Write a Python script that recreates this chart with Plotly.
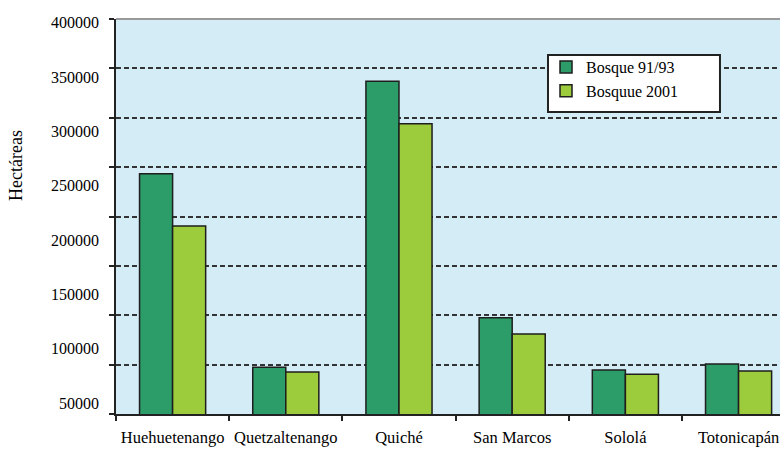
import plotly.graph_objects as go

categories = ["Huehuetenango", "Quetzaltenango", "Quiché", "San Marcos", "Sololá", "Totonicapán"]
bosque_91_93 = [261000, 83000, 346000, 128500, 80500, 86000]
bosque_2001 = [213000, 78500, 307000, 113500, 76500, 79500]
tick_values = [50000, 100000, 150000, 200000, 250000, 300000, 350000, 400000]
tick_labels = ["50000", "100000", "150000", "200000", "250000", "300000", "350000", "400000"]
grid_values = [0, 50000, 100000, 150000, 200000, 250000, 300000, 350000, 400000]

FONT = "Liberation Serif"

fig = go.Figure()
fig.add_trace(go.Bar(
    x=categories, y=bosque_91_93, name="Bosque 91/93",
    marker=dict(color="#2C9C68", line=dict(color="#1E1E1E", width=1.5)),
))
fig.add_trace(go.Bar(
    x=categories, y=bosque_2001, name="Bosquue 2001",
    marker=dict(color="#9CCB3B", line=dict(color="#1E1E1E", width=1.5)),
))
fig.add_trace(go.Scatter(x=[None], y=[None], yaxis="y2", showlegend=False, hoverinfo="skip"))

fig.update_layout(
    width=780, height=449,
    margin=dict(l=116, r=0, t=19, b=35, autoexpand=False),
    paper_bgcolor="white",
    plot_bgcolor="#D4ECF5",
    barmode="group", bargap=0.416, bargroupgap=0,
    font=dict(family=FONT, size=16, color="black"),
    showlegend=True,
    legend=dict(
        x=0.6476, y=0.9215, xanchor="left", yanchor="top",
        bgcolor="rgba(0,0,0,0)", borderwidth=0,
        font=dict(family=FONT, size=16, color="black"),
        tracegroupgap=0,
    ),
    xaxis=dict(
        type="category", range=[-0.5, 5.366], automargin=False,
        showline=True, linecolor="#222", linewidth=2,
        ticks="outside", tickson="boundaries", ticklen=5, tickcolor="#222", tickwidth=2,
        showgrid=False, tickfont=dict(family=FONT, size=16.5, color="black"),
        tickangle=0, ticklabelstandoff=7,
    ),
    yaxis=dict(
        range=[39900, 403400], automargin=False,
        tickvals=tick_values, ticktext=tick_labels,
        showgrid=False, zeroline=False, showline=False, ticks="",
        tickfont=dict(family=FONT, size=16, color="black"),
        ticklabelstandoff=16,
    ),
    yaxis2=dict(
        overlaying="y", anchor="x", side="left", automargin=False,
        range=[0, 400000], tickvals=grid_values,
        showticklabels=False,
        showgrid=True, gridcolor="#333333", gridwidth=2, griddash="5px,3px",
        zeroline=False,
        showline=True, linecolor="#222", linewidth=2,
        ticks="outside", ticklen=5, tickcolor="#222", tickwidth=2,
    ),
    shapes=[
        dict(type="line", xref="paper", yref="paper", x0=0, x1=1, y0=1, y1=1,
             line=dict(color="#9A9A9A", width=2), layer="above"),
        dict(type="rect", xref="paper", yref="paper", x0=0.6506, x1=0.9096, y0=0.7646, y1=0.9089,
             fillcolor="white", line=dict(color="#222", width=2), layer="above"),
    ],
    annotations=[
        dict(text="Hectáreas", xref="paper", yref="paper", x=-0.1506, y=0.628,
             xanchor="center", yanchor="middle", textangle=-90, showarrow=False,
             font=dict(family=FONT, size=18, color="black")),
    ],
)

fig.write_html("out.html", config={"displayModeBar": False},
               post_script="document.body.style.margin='0';document.body.style.padding='0';")
